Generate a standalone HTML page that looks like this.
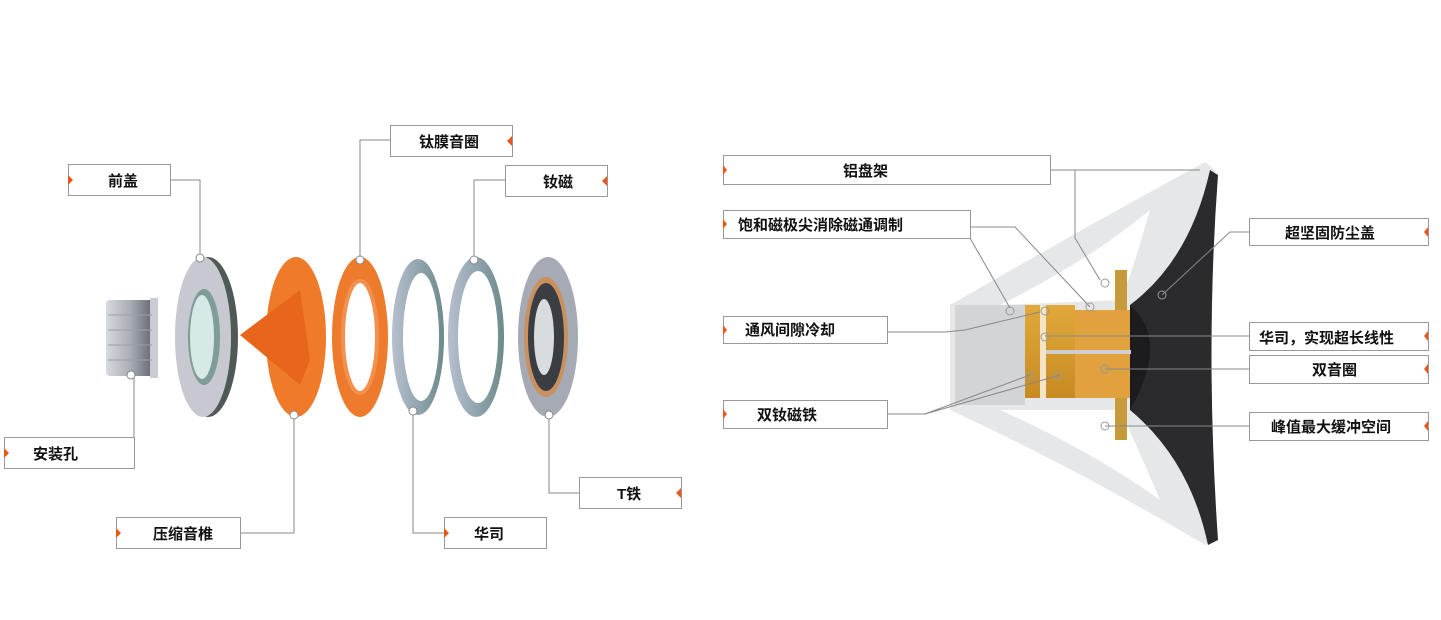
<!DOCTYPE html>
<html><head><meta charset="utf-8"><style>
html,body{margin:0;padding:0;background:#fff;}
svg{display:block;}
text{font-family:"Liberation Sans","Noto Sans CJK SC",sans-serif;font-weight:bold;font-size:15px;fill:#111;}
</style></head><body>
<svg width="1441" height="620" viewBox="0 0 1441 620" xmlns="http://www.w3.org/2000/svg">
<defs>
<linearGradient id="metal" x1="0" x2="1"><stop offset="0" stop-color="#d8dadf"/><stop offset="0.5" stop-color="#a9adb5"/><stop offset="1" stop-color="#60656c"/></linearGradient>
<linearGradient id="blue" x1="0" x2="1"><stop offset="0" stop-color="#b7bfcf"/><stop offset="0.6" stop-color="#8aa0a8"/><stop offset="1" stop-color="#6d8a8a"/></linearGradient>
<linearGradient id="gold" x1="0" x2="0" y1="0" y2="1"><stop offset="0" stop-color="#e0a93a"/><stop offset="1" stop-color="#c88a22"/></linearGradient>
</defs>
<g fill="none" stroke="#888" stroke-width="1">
<polyline points="170,180 200,180 200,255"/>
<polyline points="390,140 360,140 360,258"/>
<polyline points="505,180 474,180 474,257"/>
<polyline points="134,453 134,378"/>
<polyline points="240,533 294,533 294,418"/>
<polyline points="444,533 413,533 413,413"/>
<polyline points="579,493 549,493 549,418"/>
</g>
<rect x="106" y="300" width="48" height="76" rx="4" fill="url(#metal)"/>
<rect x="150" y="298" width="8" height="80" fill="#c9ccd2"/>
<g stroke="#9aa0a6" stroke-width="1">
<line x1="108" y1="315" x2="152" y2="315"/><line x1="108" y1="330" x2="152" y2="330"/><line x1="108" y1="345" x2="152" y2="345"/><line x1="108" y1="360" x2="152" y2="360"/></g>
<ellipse cx="208" cy="337" rx="30" ry="80" fill="#4f5a58"/>
<ellipse cx="203" cy="337" rx="28" ry="80" fill="#c7c8d0"/>
<ellipse cx="204" cy="337" rx="16" ry="48" fill="#7f9c99"/>
<ellipse cx="202" cy="337" rx="12" ry="42" fill="#d6e9e6"/>
<ellipse cx="296" cy="337" rx="30" ry="80" fill="#ef7a2a"/>
<polygon points="240,335 300,290 310,360 300,385" fill="#e8661c"/>
<ellipse cx="360" cy="337" rx="28" ry="80" fill="#ee7a2c"/>
<ellipse cx="360" cy="337" rx="17" ry="56" fill="#fff" stroke="#f29050" stroke-width="4"/>
<ellipse cx="418" cy="337" rx="26" ry="78" fill="url(#blue)"/>
<ellipse cx="421" cy="337" rx="18" ry="64" fill="#fff"/>
<ellipse cx="476" cy="337" rx="28" ry="80" fill="url(#blue)"/>
<ellipse cx="478" cy="337" rx="20" ry="66" fill="#fff"/>
<ellipse cx="548" cy="337" rx="30" ry="80" fill="#a6aab4"/>
<ellipse cx="546" cy="337" rx="22" ry="60" fill="#c99060"/>
<ellipse cx="546" cy="337" rx="18" ry="54" fill="#3a3e42"/>
<ellipse cx="544" cy="337" rx="10" ry="38" fill="#d9dcdf"/>
<g fill="#fff" stroke="#888"><circle cx="200" cy="258" r="4"/><circle cx="360" cy="260" r="4"/><circle cx="474" cy="260" r="4"/><circle cx="131" cy="375" r="4"/><circle cx="294" cy="415" r="4"/><circle cx="413" cy="411" r="4"/><circle cx="549" cy="415" r="4"/></g>
<!-- right speaker -->
<path d="M950,305 Q1080,230 1205,162 L1215,170 Q1170,300 1130,310 L1130,400 Q1170,420 1215,540 L1205,545 Q1080,470 950,410 Z" fill="#e6e7e9"/>
<path d="M1000,305 Q1090,260 1150,210 Q1130,280 1120,300 Z" fill="#fff"/>
<path d="M1000,410 Q1090,450 1160,500 Q1130,430 1120,410 Z" fill="#fff"/>
<path d="M1130,305 Q1190,260 1210,170 L1218,175 Q1205,350 1218,540 L1208,545 Q1190,460 1130,410 Z" fill="#2b2b2d"/>
<path d="M1130,305 Q1170,340 1130,410" fill="#1c1c1e"/>
<rect x="1115" y="270" width="12" height="170" fill="#c79a3a"/>
<rect x="955" y="305" width="70" height="100" fill="#d2d4d8"/>
<rect x="1025" y="305" width="50" height="93" fill="url(#gold)"/>
<rect x="1075" y="310" width="55" height="88" fill="#e0a13e"/>
<rect x="1040" y="305" width="6" height="93" fill="#f3e6c8"/>
<rect x="1046" y="350" width="85" height="4" fill="#cfcfcf"/>
<g fill="none" stroke="#888" stroke-width="1">
<polyline points="1050,170 1075,170 1075,238 1100,280"/>
<line x1="1075" y1="170" x2="1200" y2="170"/>
<polyline points="970,238 1010,308"/>
<polyline points="970,227 1015,227 1090,307"/>
<polyline points="887,332 945,332 965,330 1040,312"/>
<polyline points="887,414 925,414 1030,375"/>
<line x1="925" y1="414" x2="1060" y2="375"/>
<polyline points="1249,232 1230,232 1162,295"/>
<line x1="1249" y1="336" x2="1045" y2="336"/>
<line x1="1249" y1="369" x2="1105" y2="369"/>
<line x1="1249" y1="426" x2="1105" y2="426"/>
</g>
<g fill="none" stroke="#999"><circle cx="1010" cy="311" r="4"/><circle cx="1045" cy="311" r="4"/><circle cx="1045" cy="337" r="4"/><circle cx="1090" cy="307" r="4"/><circle cx="1105" cy="283" r="4"/><circle cx="1162" cy="295" r="4"/><circle cx="1105" cy="369" r="4"/><circle cx="1030" cy="376" r="4"/><circle cx="1058" cy="376" r="4"/><circle cx="1105" cy="426" r="4"/></g>
<g fill="#fff" stroke="#999" stroke-width="1">
<rect x="68.5" y="164.5" width="102" height="31"/>
<rect x="390.5" y="125.5" width="122" height="31"/>
<rect x="505.5" y="165.5" width="102" height="31"/>
<rect x="4.5" y="437.5" width="130" height="31"/>
<rect x="116.5" y="517.5" width="124" height="31"/>
<rect x="444.5" y="517.5" width="102" height="31"/>
<rect x="579.5" y="477.5" width="102" height="31"/>
<rect x="723.5" y="155.5" width="327" height="29"/>
<rect x="723.5" y="210.5" width="247" height="28"/>
<rect x="723.5" y="316.5" width="164" height="27"/>
<rect x="723.5" y="400.5" width="164" height="28"/>
<rect x="1249.5" y="218.5" width="179" height="27"/>
<rect x="1249.5" y="322.5" width="179" height="28"/>
<rect x="1249.5" y="355.5" width="179" height="28"/>
<rect x="1249.5" y="412.5" width="179" height="28"/>
</g>
<g fill="#e8561b">
<polygon points="68,175 73,180 68,185"/>
<polygon points="512,136 507,141 512,146"/>
<polygon points="607,176 602,181 607,186"/>
<polygon points="4,448 9,453 4,458"/>
<polygon points="116,528 121,533 116,538"/>
<polygon points="444,528 449,533 444,538"/>
<polygon points="681,488 676,493 681,498"/>
<polygon points="723,165 727,170 723,175"/>
<polygon points="723,219 727,224 723,229"/>
<polygon points="723,325 727,330 723,335"/>
<polygon points="723,409 727,414 723,419"/>
<polygon points="1428,227 1424,232 1428,237"/>
<polygon points="1428,331 1424,336 1428,341"/>
<polygon points="1428,364 1424,369 1428,374"/>
<polygon points="1428,421 1424,426 1428,431"/>
</g>
<text x="108" y="186">前盖</text>
<text x="419" y="147">钛膜音圈</text>
<text x="543" y="187">钕磁</text>
<text x="33" y="459">安装孔</text>
<text x="153" y="539">压缩音椎</text>
<text x="474" y="539">华司</text>
<text x="617" y="499">T铁</text>
<text x="843" y="176">铝盘架</text>
<text x="738" y="230">饱和磁极尖消除磁通调制</text>
<text x="745" y="335">通风间隙冷却</text>
<text x="757" y="420">双钕磁铁</text>
<text x="1285" y="238">超坚固防尘盖</text>
<text x="1259" y="343">华司，实现超长线性</text>
<text x="1312" y="375">双音圈</text>
<text x="1271" y="432">峰值最大缓冲空间</text>
</svg>
</body></html>
